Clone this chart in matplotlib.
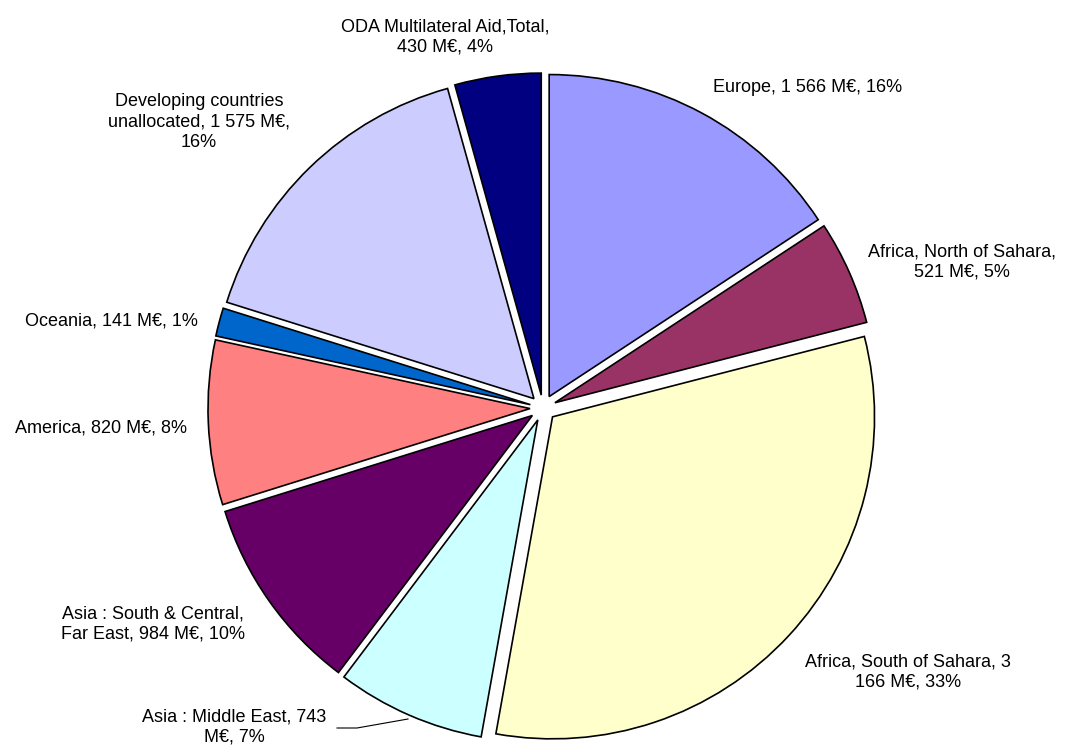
import matplotlib.pyplot as plt

plt.rcParams['font.family'] = ['Liberation Sans', 'DejaVu Sans']

categories = [
    "Europe", "Africa, North of Sahara", "Africa, South of Sahara",
    "Asia : Middle East", "Asia : South & Central, Far East", "America",
    "Oceania", "Developing countries unallocated", "ODA Multilateral Aid,Total",
]
amounts = [1566, 521, 3166, 743, 984, 820, 141, 1575, 430]  # M€
labels = [
    "Europe, 1 566 M€, 16%",
    "Africa, North of Sahara,\n521 M€, 5%",
    "Africa, South of Sahara, 3\n166 M€, 33%",
    "Asia : Middle East, 743\nM€, 7%",
    "Asia : South & Central,\nFar East, 984 M€, 10%",
    "America, 820 M€, 8%",
    "Oceania, 141 M€, 1%",
    "Developing countries\nunallocated, 1 575 M€,\n16%",
    "ODA Multilateral Aid,Total,\n430 M€, 4%",
]
colors = ["#9999FF", "#993366", "#FFFFCC", "#CCFFFF", "#660066",
          "#FF8080", "#0066CC", "#CCCCFF", "#000080"]

# label centres in pixel coords (y measured from the top)
label_pos = [(808, 87), (962, 262), (908, 672), (234, 727), (153, 624),
             (101, 428), (111, 321), (199, 122), (445, 37)]

W, H = 1066, 745
fig = plt.figure(figsize=(W / 100, H / 100), dpi=100)
ax = fig.add_axes([0, 0, 1, 1])

# explode is an absolute offset in data units (pixels here)
cx, cy, r = 543, H - 408, 322
ax.pie(amounts, colors=colors, startangle=90, counterclock=False,
       center=(cx, cy), radius=r, explode=[13] * len(amounts),
       wedgeprops=dict(edgecolor='black', linewidth=1.2), frame=True)
ax.set_xlim(0, W)
ax.set_ylim(0, H)
ax.set_aspect('equal')
ax.axis('off')

for text, (x, y) in zip(labels, label_pos):
    ax.text(x, H - y, text, ha='center', va='center', fontsize=13,
            linespacing=1.3, color='black')

# leader line for the Middle East label
ax.plot([337, 357, 408], [H - 728, H - 728, H - 719], color='black', lw=0.8)

fig.savefig("out.png", dpi=100)
